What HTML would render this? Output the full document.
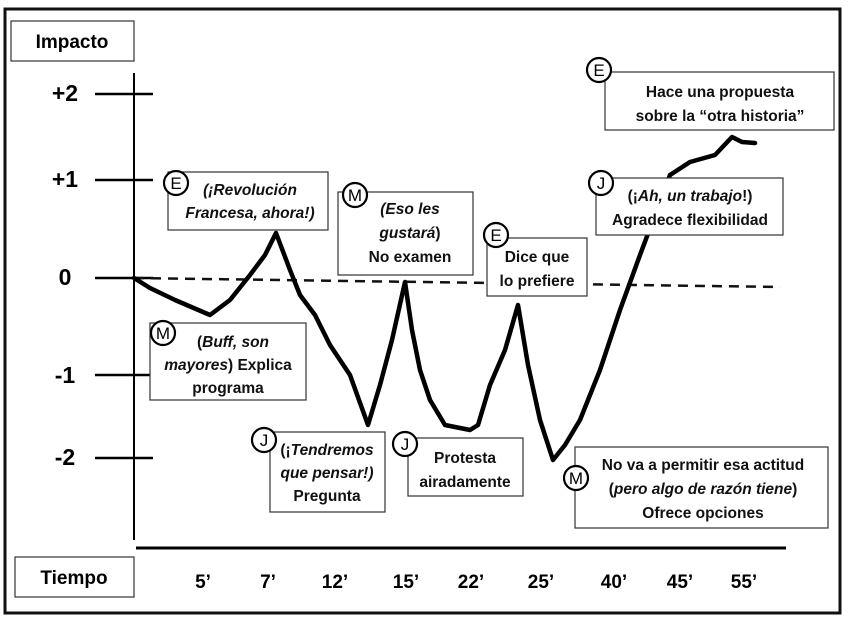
<!DOCTYPE html>
<html><head><meta charset="utf-8"><style>
body{margin:0;background:#fff}
svg{display:block}
text{font-family:"Liberation Sans",sans-serif;}
.b{font-weight:bold}
.t{font-size:15.5px;font-weight:bold;text-anchor:middle;fill:#111}
.i{font-style:italic}
.bx{fill:#fff;stroke:#333;stroke-width:1.2}
.c{fill:#fff;stroke:#000;stroke-width:2.2}
.ct{font-size:17px;text-anchor:middle}
</style></head><body>
<svg width="850" height="623" viewBox="0 0 850 623">
<rect x="5" y="9" width="835" height="604" fill="#fff" stroke="#111" stroke-width="3"/>
<rect x="11" y="21" width="123" height="40" class="bx"/>
<text x="72" y="48" class="b" font-size="19" text-anchor="middle">Impacto</text>
<line x1="134" y1="73" x2="134" y2="540" stroke="#000" stroke-width="2"/>
<g stroke="#000" stroke-width="2.5">
<line x1="95" y1="94" x2="153" y2="94"/><line x1="95" y1="180" x2="153" y2="180"/>
<line x1="95" y1="278" x2="153" y2="278"/><line x1="95" y1="375" x2="153" y2="375"/>
<line x1="95" y1="458" x2="153" y2="458"/></g>
<g class="b" font-size="23" text-anchor="middle">
<text x="65" y="101">+2</text><text x="65" y="187">+1</text><text x="65" y="285">0</text>
<text x="65" y="383">-1</text><text x="65" y="465">-2</text></g>
<line x1="136" y1="548" x2="786" y2="548" stroke="#000" stroke-width="3"/>
<rect x="15" y="557" width="119" height="40" class="bx"/>
<text x="74" y="584" class="b" font-size="19" text-anchor="middle">Tiempo</text>
<g class="b" font-size="19" text-anchor="middle">
<text x="203" y="588">5’</text><text x="268" y="588">7’</text><text x="335" y="588">12’</text>
<text x="406" y="588">15’</text><text x="471" y="588">22’</text><text x="541" y="588">25’</text>
<text x="614" y="588">40’</text><text x="680" y="588">45’</text><text x="744" y="588">55’</text></g>
<line x1="134" y1="278" x2="780" y2="287" stroke="#111" stroke-width="2.5" stroke-dasharray="10,7"/>
<polyline fill="none" stroke="#000" stroke-width="4.5" stroke-linejoin="round" stroke-linecap="round" points="134,278 150,288 175,300 210,315 230,300 250,275 265,255 276,233 290,270 300,295 315,315 330,345 350,375 368,425 380,385 392,340 405,282 412,330 420,370 430,400 445,425 470,430 478,425 490,385 505,350 518,305 528,365 540,420 553,460 565,445 580,420 600,370 620,310 640,255 655,215 670,175 690,162 715,155 732,137 742,142 755,143"/>
<rect x="168" y="172" width="160" height="58" class="bx"/>
<text class="t i" x="250" y="195">(¡Revolución</text><text class="t i" x="250" y="218">Francesa, ahora!)</text>
<rect x="338" y="192" width="135" height="83" class="bx"/>
<text class="t" x="410" y="214"><tspan class="i">(Eso les</tspan></text>
<text class="t" x="410" y="238"><tspan class="i">gustará</tspan>)</text>
<text class="t" x="410" y="262">No examen</text>
<rect x="487" y="238" width="100" height="58" class="bx"/>
<text class="t" x="537" y="262">Dice que</text><text class="t" x="537" y="286">lo prefiere</text>
<rect x="596" y="178" width="187" height="57" class="bx"/>
<text class="t" x="690" y="201">(¡<tspan class="i">Ah, un trabajo</tspan>!)</text>
<text class="t" x="690" y="225">Agradece flexibilidad</text>
<rect x="605" y="72" width="229" height="58" class="bx"/>
<text class="t" x="720" y="97">Hace una propuesta</text><text class="t" x="720" y="121">sobre la “otra historia”</text>
<rect x="150" y="323" width="156" height="77" class="bx"/>
<text class="t" x="233" y="347">(<tspan class="i">Buff, son</tspan></text>
<text class="t" x="228" y="370"><tspan class="i">mayores</tspan>) Explica</text>
<text class="t" x="228" y="393">programa</text>
<rect x="270" y="432" width="115" height="80" class="bx"/>
<text class="t" x="327" y="455">(¡<tspan class="i">Tendremos</tspan></text>
<text class="t i" x="327" y="478">que pensar!)</text>
<text class="t" x="327" y="501">Pregunta</text>
<rect x="408" y="438" width="115" height="58" class="bx"/>
<text class="t" x="465" y="463">Protesta</text><text class="t" x="465" y="487">airadamente</text>
<rect x="575" y="447" width="253" height="81" class="bx"/>
<text class="t" x="703" y="470">No va a permitir esa actitud</text>
<text class="t" x="703" y="494">(<tspan class="i">pero algo de razón tiene</tspan>)</text>
<text class="t" x="703" y="518">Ofrece opciones</text>
<g>
<circle cx="176" cy="183" r="12" class="c"/><text class="ct" x="176" y="189">E</text>
<circle cx="355" cy="195" r="12" class="c"/><text class="ct" x="355" y="201">M</text>
<circle cx="496" cy="235" r="12" class="c"/><text class="ct" x="496" y="241">E</text>
<circle cx="601" cy="183" r="12" class="c"/><text class="ct" x="601" y="189">J</text>
<circle cx="599" cy="70" r="12" class="c"/><text class="ct" x="599" y="76">E</text>
<circle cx="163" cy="333" r="12" class="c"/><text class="ct" x="163" y="339">M</text>
<circle cx="264" cy="440" r="12" class="c"/><text class="ct" x="264" y="446">J</text>
<circle cx="405" cy="444" r="12" class="c"/><text class="ct" x="405" y="450">J</text>
<circle cx="576" cy="478" r="12" class="c"/><text class="ct" x="576" y="484">M</text>
</g>
</svg>
</body></html>
